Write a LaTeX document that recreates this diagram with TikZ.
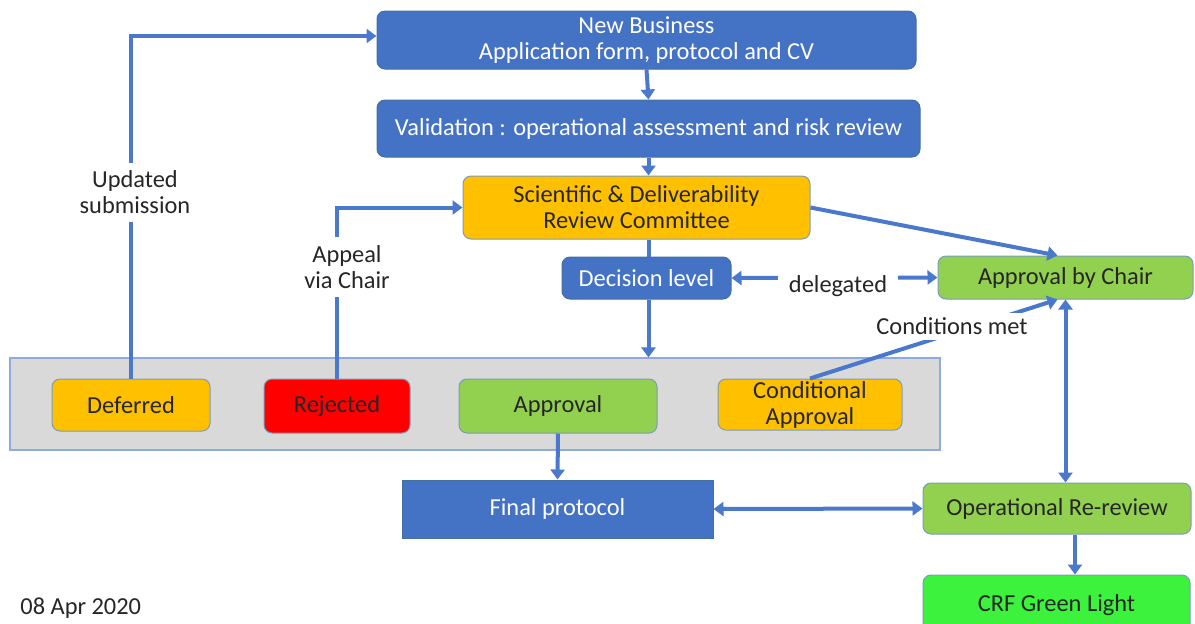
\documentclass[tikz,border=0pt]{standalone}
\usepackage{fontspec}
\setmainfont{Carlito}
\usepackage{xcolor}
\usetikzlibrary{arrows.meta}

\definecolor{boxblue}{HTML}{4472C4}
\definecolor{lineblue}{HTML}{4A78CC}
\definecolor{edgeblue}{HTML}{41719C}
\definecolor{boxorange}{HTML}{FFC000}
\definecolor{boxgreen}{HTML}{92D050}
\definecolor{boxred}{HTML}{FF0000}
\definecolor{brightgreen}{HTML}{3CF23C}
\definecolor{panelgrey}{HTML}{D9D9D9}
\definecolor{paneledge}{HTML}{8FAADC}

\begin{document}
\begin{tikzpicture}[x=0.5pt, y=-0.5pt,
    every node/.style={font=\fontsize{12.2}{13}\selectfont, align=center, inner sep=0pt},
    bluebox/.style={draw=edgeblue, line width=0.5pt, fill=boxblue, text=white, rounded corners=4pt},
    orangebox/.style={draw=edgeblue!70, line width=0.5pt, fill=boxorange, text=black!85, rounded corners=4pt},
    greenbox/.style={draw=edgeblue!70, line width=0.5pt, fill=boxgreen, text=black!85, rounded corners=4pt},
    redbox/.style={draw=edgeblue!70, line width=0.5pt, fill=boxred, text=black!85, rounded corners=4pt},
    tag/.style={fill=white, text=black!85},
    flow/.style={draw=lineblue, line width=2pt, -{Triangle[width=7pt, length=5pt]}},
    flowboth/.style={draw=lineblue, line width=2pt, {Triangle[width=7pt, length=5pt]}-{Triangle[width=7pt, length=5pt]}},
    link/.style={draw=lineblue, line width=2pt}]

    \useasboundingbox (0, 0) rectangle (1195, 623);
    \clip (0, 0) rectangle (1195, 623);

    % Outcome panel
    \path
    (475, 404) node[draw=paneledge, line width=0.6pt, fill=panelgrey, minimum width=465pt, minimum height=46pt] (panel) {}
    ;

    % Review nodes
    \path
    (646.5, 40) node[bluebox, minimum width=269.5pt, minimum height=29pt] (newbiz) {New Business\\Application form, protocol and CV}
    (648.5, 128.5) node[bluebox, minimum width=271.5pt, minimum height=28.5pt] (valid) {Validation : operational assessment and risk review}
    (636.5, 207.5) node[orangebox, minimum width=173.5pt, minimum height=31.5pt] (sdrc) {Scientific \& Deliverability\\Review Committee}
    (646.5, 278) node[bluebox, minimum width=84.5pt, minimum height=21pt] (decision) {Decision level}
    (1065.5, 277.5) node[greenbox, minimum width=127.5pt, minimum height=21.5pt] (chair) {Approval by Chair}
    ;

    % Outcome nodes
    \path
    (131, 405) node[orangebox, minimum width=79pt, minimum height=26pt] (deferred) {Deferred}
    (337, 406) node[redbox, minimum width=73pt, minimum height=27pt] (rejected) {Rejected}
    (558, 406) node[greenbox, minimum width=99pt, minimum height=27pt] (approval) {Approval}
    (810, 404.5) node[orangebox, minimum width=92pt, minimum height=25.5pt] (condappr) {Conditional\\Approval}
    ;

    % Follow-up nodes
    \path
    (557.5, 509) node[fill=boxblue, draw=edgeblue, line width=0.5pt, text=white, minimum width=155.5pt, minimum height=29pt] (final) {Final protocol}
    (1057, 508.5) node[greenbox, minimum width=134pt, minimum height=25.5pt] (rereview) {Operational Re-review}
    (1056.5, 605) node[draw=edgeblue!70, line width=0.5pt, fill=brightgreen, text=black!85, rounded corners=4pt, minimum width=133.5pt, minimum height=30pt] (crf) {CRF Green Light}
    (20, 614) node[anchor=base west, text=black!85] (date) {08 Apr 2020}
    ;

    % Main flow
    \draw[flow] (newbiz.south) -- (valid.north);
    \draw[flow] (valid.south) -- (valid.south |- sdrc.north);
    \draw[link] (sdrc.south -| valid.south) -- (valid.south |- decision.north);
    \draw[flow] (valid.south |- decision.south) -- (valid.south |- panel.north);
    \draw[flow] (sdrc.east) -- ([xshift=-4]chair.north);
    \draw[flowboth] (decision.east) -- (chair.west);
    \draw[flow] (condappr.north) -- ([xshift=-4]chair.south);
    \draw[flowboth] (chair.south) -- (chair.south |- rereview.north);

    % Loops back
    \draw[flow] (deferred.north) |- ([yshift=2]newbiz.west);
    \draw[flow] (rejected.north) |- (sdrc.west);

    % Final steps
    \draw[flow] (approval.south) -- (final.north);
    \draw[flowboth] (final.east) -- (rereview.west);
    \draw[flow] ([xshift=9]rereview.south) -- ([xshift=9]rereview.south |- crf.north);

    % Labels
    \path
    (135, 192) node[tag, minimum width=60pt, minimum height=29.5pt] (updated) {Updated\\submission}
    (347, 267) node[tag, minimum width=52.5pt, minimum height=30pt] (appeal) {Appeal\\via Chair}
    (838, 286) node[tag, minimum width=60pt, minimum height=20pt] (delegated) {delegated}
    (952, 326) node[tag, minimum width=86pt, minimum height=13.5pt] (condmet) {Conditions met}
    ;

\end{tikzpicture}
\end{document}
